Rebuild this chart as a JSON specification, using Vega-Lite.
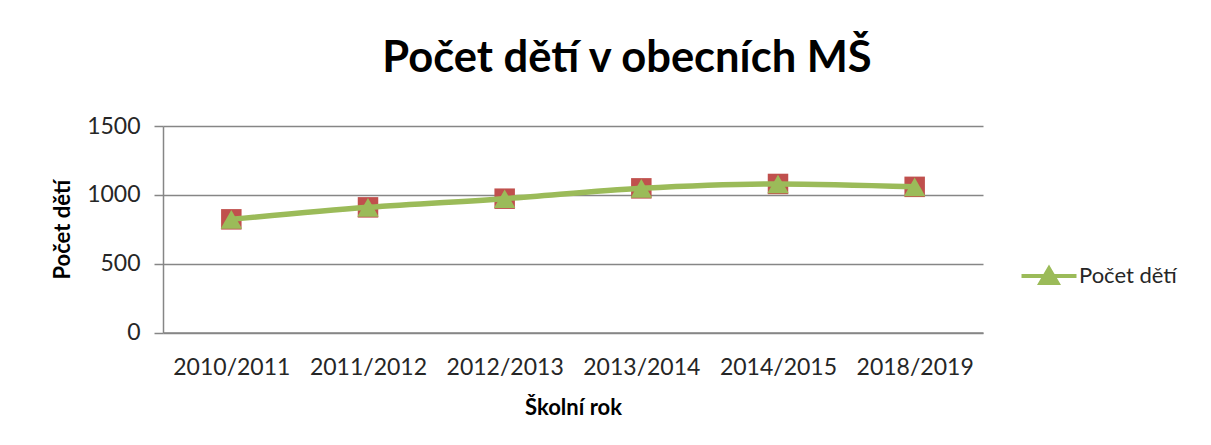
{
  "$schema": "https://vega.github.io/schema/vega-lite/v6.json",
  "autosize": "none",
  "width": 820,
  "height": 206.5,
  "padding": {"left": 163, "top": 126, "right": 228, "bottom": 106},
  "background": "white",
  "config": {
    "view": {"stroke": null},
    "font": "Lato",
    "axis": {"labelFont": "Lato", "titleFont": "Lato", "labelColor": "#262626", "titleColor": "#000000"}
  },
  "title": {
    "text": "Počet dětí v obecních MŠ",
    "font": "Lato",
    "fontSize": 43.5,
    "fontWeight": "bold",
    "color": "#000000",
    "anchor": "middle",
    "baseline": "alphabetic",
    "offset": 0,
    "dx": 54
  },
  "data": {
    "values": [
      {"rok": "2010/2011", "pocet": 822, "serie": "Počet dětí"},
      {"rok": "2011/2012", "pocet": 909, "serie": "Počet dětí"},
      {"rok": "2012/2013", "pocet": 972, "serie": "Počet dětí"},
      {"rok": "2013/2014", "pocet": 1047, "serie": "Počet dětí"},
      {"rok": "2014/2015", "pocet": 1079, "serie": "Počet dětí"},
      {"rok": "2018/2019", "pocet": 1058, "serie": "Počet dětí"}
    ]
  },
  "encoding": {
    "x": {
      "field": "rok",
      "type": "ordinal",
      "sort": null,
      "scale": {"paddingInner": 0, "paddingOuter": 0.5},
      "axis": {
        "title": "Školní rok",
        "titleFontSize": 22,
        "titleFontWeight": "bold",
        "titlePadding": 18,
        "labelFontSize": 23,
        "labelAngle": 0,
        "labelPadding": 24,
        "ticks": false,
        "domainColor": "#868686",
        "domainWidth": 1.5,
        "grid": false
      }
    },
    "y": {
      "field": "pocet",
      "type": "quantitative",
      "scale": {"domain": [0, 1500], "nice": false},
      "axis": {
        "title": "Počet dětí",
        "format": "d",
        "titleFontSize": 22,
        "titleFontWeight": "bold",
        "titlePadding": 12,
        "values": [0, 500, 1000, 1500],
        "labelFontSize": 23,
        "labelPadding": 14,
        "tickSize": 9,
        "tickColor": "#868686",
        "tickWidth": 1.5,
        "domainColor": "#868686",
        "domainWidth": 1.5,
        "gridColor": "#868686",
        "gridWidth": 1.5,
        "gridOpacity": 1
      }
    }
  },
  "layer": [
    {
      "mark": {"type": "line", "color": "#7f7f7f", "strokeWidth": 1.5, "interpolate": "monotone"},
      "encoding": {}
    },
    {
      "mark": {"type": "point", "shape": "square", "filled": true, "size": 420, "color": "#C0504D", "opacity": 1},
      "encoding": {}
    },
    {
      "mark": {"type": "line", "strokeWidth": 5.5, "interpolate": "monotone"},
      "encoding": {
        "color": {
          "field": "serie",
          "type": "nominal",
          "scale": {"range": ["#9BBB59"]},
          "legend": {
            "title": null,
            "orient": "none",
            "legendX": 874,
            "legendY": 138,
            "symbolType": "M-2.75,0H2.75M0,-0.75L0.85,0.7L-0.85,0.7Z",
            "symbolSize": 400,
            "symbolStrokeWidth": 4,
            "symbolFillColor": "#9BBB59",
            "symbolStrokeColor": "#9BBB59",
            "labelFont": "Lato",
            "labelFontSize": 22,
            "labelColor": "#262626",
            "labelOffset": 18
          }
        }
      }
    },
    {
      "mark": {"type": "point", "shape": "triangle-up", "filled": true, "size": 460, "opacity": 1},
      "encoding": {
        "color": {"field": "serie", "type": "nominal"}
      }
    }
  ]
}
